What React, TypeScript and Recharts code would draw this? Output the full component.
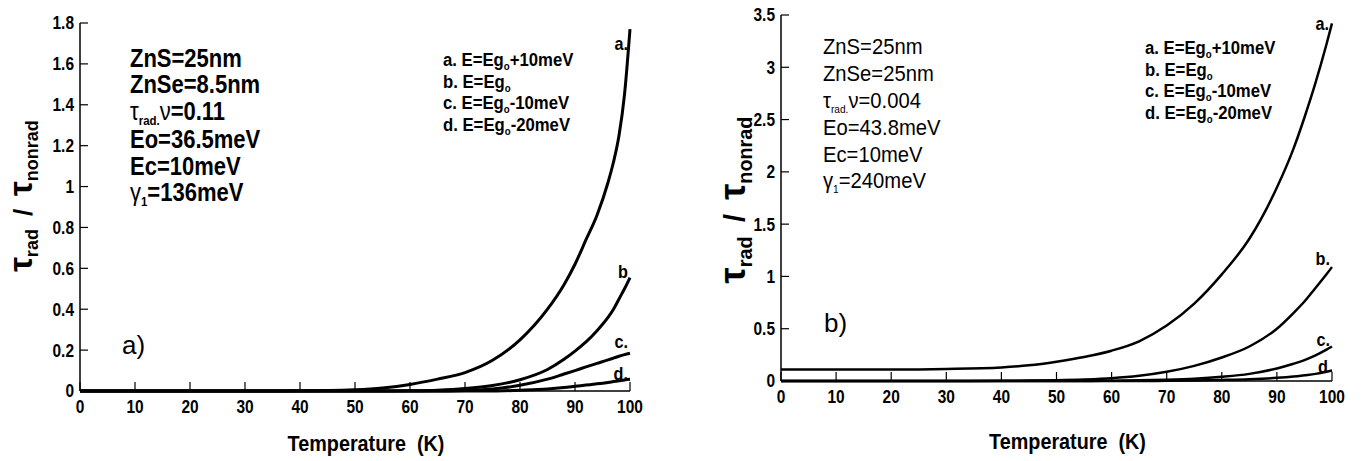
import { LineChart, Line, XAxis, YAxis, Label } from "recharts";

const SANS = "'Liberation Sans', Arial, sans-serif";

const tempTicks = [0, 10, 20, 30, 40, 50, 60, 70, 80, 90, 100];
const leftYTicks = [0, 0.2, 0.4, 0.6, 0.8, 1, 1.2, 1.4, 1.6, 1.8];
const rightYTicks = [0, 0.5, 1, 1.5, 2, 2.5, 3, 3.5];

// panel a) ZnSe = 8.5nm
const leftT = [0, 5, 10, 15, 20, 25, 30, 35, 40, 45, 50, 55, 60, 65, 70, 75, 80, 85, 88, 90, 92, 94, 96, 97, 98, 99, 100];
const leftA = [0, 0, 0, 0, 0, 0, 0, 0, 0.001, 0.002, 0.006, 0.015, 0.032, 0.058, 0.09, 0.15, 0.25, 0.4, 0.52, 0.62, 0.74, 0.86, 1.02, 1.12, 1.25, 1.45, 1.77];
const leftB = [0, 0, 0, 0, 0, 0, 0, 0, 0, 0, 0, 0, 0.001, 0.004, 0.012, 0.027, 0.055, 0.105, 0.155, 0.195, 0.24, 0.295, 0.36, 0.4, 0.45, 0.5, 0.555];
const leftC = [0, 0, 0, 0, 0, 0, 0, 0, 0, 0, 0, 0, 0, 0, 0.003, 0.01, 0.028, 0.058, 0.083, 0.1, 0.118, 0.135, 0.152, 0.161, 0.17, 0.178, 0.185];
const leftD = [0, 0, 0, 0, 0, 0, 0, 0, 0, 0, 0, 0, 0, 0, 0, 0, 0.004, 0.01, 0.017, 0.023, 0.029, 0.035, 0.042, 0.046, 0.05, 0.054, 0.057];

// panel b) ZnSe = 25nm
const rightT = [0, 10, 20, 30, 40, 45, 50, 55, 60, 65, 70, 75, 80, 85, 90, 93, 95, 97, 99, 100];
const rightA = [0.11, 0.11, 0.11, 0.115, 0.13, 0.15, 0.185, 0.23, 0.29, 0.38, 0.53, 0.74, 1.02, 1.36, 1.85, 2.22, 2.52, 2.85, 3.22, 3.42];
const rightB = [0, 0, 0, 0, 0.002, 0.004, 0.008, 0.015, 0.027, 0.05, 0.088, 0.145, 0.225, 0.33, 0.5, 0.65, 0.76, 0.89, 1.02, 1.09];
const rightC = [0, 0, 0, 0, 0, 0, 0, 0, 0.003, 0.006, 0.012, 0.022, 0.04, 0.068, 0.12, 0.165, 0.2, 0.245, 0.3, 0.33];
const rightD = [0, 0, 0, 0, 0, 0, 0, 0, 0, 0, 0.002, 0.005, 0.01, 0.017, 0.03, 0.043, 0.055, 0.068, 0.088, 0.1];

const curveNames = ["a", "b", "c", "d"];
const leftEndLabels = ["a.", "b", "c.", "d."];
const rightEndLabels = ["a.", "b.", "c.", "d"];

function rows(t: number[], a: number[], b: number[], c: number[], d: number[]) {
  return t.map((T, i) => ({ T, a: a[i], b: b[i], c: c[i], d: d[i] }));
}

const leftData = rows(leftT, leftA, leftB, leftC, leftD);
const rightData = rows(rightT, rightA, rightB, rightC, rightD);

const fmt = (v: number) => String(+v.toFixed(1));

// condensed bold text, the figure uses an Arial Narrow like face
function Cond({ x, y, sx = 0.85, size, weight = 700, anchor = "start", dy, children }: any) {
  return (
    <text transform={`translate(${x},${y}) scale(${sx},1)`} textAnchor={anchor} dy={dy}
      fontFamily={SANS} fontWeight={weight} fontSize={size} fill="#000">
      {children}
    </text>
  );
}

function XTick({ x, y, payload }: any) {
  return <Cond x={x} y={y} size={18} sx={0.86} anchor="middle" dy="0.71em">{fmt(payload.value)}</Cond>;
}

function YTick({ x, y, payload }: any) {
  return <Cond x={x} y={y} size={18} sx={0.86} anchor="end" dy="0.355em">{fmt(payload.value)}</Cond>;
}

function YTitle({ viewBox, dx, dy, scale }: any) {
  const cx = viewBox.x + dx;
  const cy = viewBox.y + viewBox.height / 2 + dy;
  const big = 33 * scale;
  const sub = 18 * scale;
  return (
    <text transform={`translate(${cx},${cy}) rotate(-90)`} textAnchor="middle" fill="#000" fontFamily={SANS} fontWeight={700}>
      <tspan fontSize={big}>τ</tspan>
      <tspan fontSize={sub} dy={6 * scale}>rad</tspan>
      <tspan fontSize={26 * scale} dy={-6 * scale}>{"\u2002/\u2002"}</tspan>
      <tspan fontSize={big}>τ</tspan>
      <tspan fontSize={sub} dy={6 * scale}>nonrad</tspan>
    </text>
  );
}

function XTitle({ viewBox, dx, dy }: any) {
  return (
    <Cond x={viewBox.x + viewBox.width / 2 + dx} y={viewBox.y + dy} size={22} sx={0.9} anchor="middle">
      {"Temperature \u00a0(K)"}
    </Cond>
  );
}

function endLabel(text: string, last: number, ox: number, oy: number) {
  return (p: any) =>
    p.index === last ? (
      <Cond key={text} x={p.x + ox} y={p.y + oy} size={18} sx={0.9} anchor="end">{text}</Cond>
    ) : null;
}

const leftOffsets = [[-2, 21], [-2, 0], [-2, -5], [-2, 1]];
const rightOffsets = [[-3, 7], [-2, -2], [-2, 0], [-4, 2]];

function Panel({ data, width, margin, yMax, yTicks, lineWidth, labels, offsets, yTitleDx, yTitleDy, yTitleScale, xTitleDy }: any) {
  const last = data.length - 1;
  return (
    <LineChart width={width} height={461} data={data} margin={margin}>
      <XAxis xAxisId="b" dataKey="T" type="number" domain={[0, 100]} ticks={tempTicks} interval={0}
        tick={<XTick />} tickSize={-9} tickMargin={18} axisLine={{ stroke: "#000", strokeWidth: 1.5 }} tickLine={{ stroke: "#000", strokeWidth: 1.2 }} height={30}>
        <Label content={(p: any) => <XTitle {...p} dx={11} dy={xTitleDy} />} />
      </XAxis>
      <XAxis xAxisId="t" dataKey="T" type="number" domain={[0, 100]} orientation="top" tick={false} tickLine={false} height={0}
        axisLine={{ stroke: "#000", strokeWidth: 1.2 }} />
      <YAxis yAxisId="l" type="number" domain={[0, yMax]} ticks={yTicks} interval={0}
        tick={<YTick />} tickSize={-8} tickMargin={14} width={60} axisLine={{ stroke: "#000", strokeWidth: 1.5 }} tickLine={{ stroke: "#000", strokeWidth: 1.2 }}>
        <Label content={(p: any) => <YTitle {...p} dx={yTitleDx} dy={yTitleDy} scale={yTitleScale} />} />
      </YAxis>
      <YAxis yAxisId="r" type="number" domain={[0, yMax]} orientation="right" tick={false} tickLine={false} width={0}
        axisLine={{ stroke: "#000", strokeWidth: 1.5 }} />
      {curveNames.map((k, i) => (
        <Line key={k} xAxisId="b" yAxisId="l" type="monotone" dataKey={k} stroke="#000" strokeWidth={lineWidth}
          dot={false} isAnimationActive={false} label={endLabel(labels[i], last, offsets[i][0], offsets[i][1])} />
      ))}
    </LineChart>
  );
}

function LegendLine({ x, y, lead, tail }: any) {
  return (
    <Cond x={x} y={y} size={19} sx={0.88}>
      {lead} E=Eg<tspan fontSize={11} dy={4}>o</tspan>
      {tail ? <tspan dy={-4}>{tail}</tspan> : null}
    </Cond>
  );
}

function Legend({ x, ys }: { x: number; ys: number[] }) {
  return (
    <g>
      <LegendLine x={x} y={ys[0]} lead="a." tail="+10meV" />
      <LegendLine x={x} y={ys[1]} lead="b." />
      <LegendLine x={x} y={ys[2]} lead="c." tail="-10meV" />
      <LegendLine x={x} y={ys[3]} lead="d." tail="-20meV" />
    </g>
  );
}

function Params({ x, ys, size, weight, sx, lines }: any) {
  const sub = Math.round(size * 0.5);
  return (
    <g>
      <Cond x={x} y={ys[0]} size={size} weight={weight} sx={sx}>{lines[0]}</Cond>
      <Cond x={x} y={ys[1]} size={size} weight={weight} sx={sx}>{lines[1]}</Cond>
      <Cond x={x} y={ys[2]} size={size} weight={weight} sx={sx}>
        <tspan fontWeight={400}>τ</tspan>
        <tspan fontSize={sub} dy={5}>rad.</tspan>
        <tspan dy={-5} fontWeight={400}>ν</tspan>
        <tspan>{lines[2]}</tspan>
      </Cond>
      <Cond x={x} y={ys[3]} size={size} weight={weight} sx={sx}>{lines[3]}</Cond>
      <Cond x={x} y={ys[4]} size={size} weight={weight} sx={sx}>{lines[4]}</Cond>
      <Cond x={x} y={ys[5]} size={size} weight={weight} sx={sx}>
        <tspan fontWeight={400}>γ</tspan>
        <tspan fontSize={sub} dy={5}>1</tspan>
        <tspan dy={-5}>{lines[5]}</tspan>
      </Cond>
    </g>
  );
}

export default function App() {
  return (
    <div style={{ position: "absolute", left: 0, top: 0, width: 1370, height: 461, background: "#fff" }}>
      <div style={{ position: "absolute", left: 0, top: 0 }}>
        <Panel data={leftData} width={660} margin={{ top: 23, right: 30, left: 20, bottom: 40 }} yMax={1.8} yTicks={leftYTicks}
          lineWidth={3} labels={leftEndLabels} offsets={leftOffsets} yTitleDx={12} yTitleDy={-11} yTitleScale={1} xTitleDy={60} />
      </div>
      <div style={{ position: "absolute", left: 700, top: 0 }}>
        <Panel data={rightData} width={670} margin={{ top: 15, right: 38, left: 21, bottom: 50 }} yMax={3.5} yTicks={rightYTicks}
          lineWidth={2.5} labels={rightEndLabels} offsets={rightOffsets} yTitleDx={24} yTitleDy={2} yTitleScale={1.1} xTitleDy={68} />
      </div>
      <svg width={1370} height={461} style={{ position: "absolute", left: 0, top: 0, pointerEvents: "none" }}>
        <Params x={130} ys={[67, 93, 120, 148, 175, 201]} size={25} weight={700} sx={0.88}
          lines={["ZnS=25nm", "ZnSe=8.5nm", "=0.11", "Eo=36.5meV", "Ec=10meV", "=136meV"]} />
        <Legend x={443} ys={[66, 87.5, 109, 130.5]} />
        <text x={122} y={354} fontFamily={SANS} fontSize={26} fill="#000">a)</text>
        <Params x={823} ys={[54, 81, 108, 135, 162, 188]} size={22} weight={400} sx={0.92}
          lines={["ZnS=25nm", "ZnSe=25nm", "=0.004", "Eo=43.8meV", "Ec=10meV", "=240meV"]} />
        <Legend x={1145} ys={[54, 75.5, 97, 118.5]} />
        <text x={824} y={332} fontFamily={SANS} fontSize={26} fill="#000">b)</text>
      </svg>
    </div>
  );
}
